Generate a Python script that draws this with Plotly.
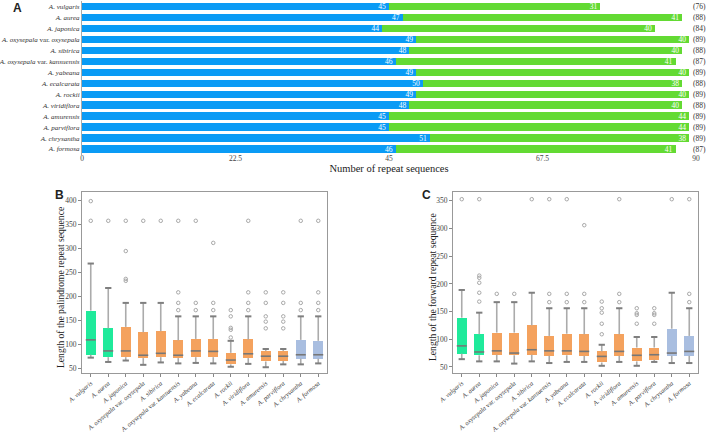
import plotly.graph_objects as go

# ---------------- data ----------------
species = ["A. vulgaris", "A. aurea", "A. japonica", "A. oxysepala var. oxysepala",
           "A. sibirica", "A. oxysepala var. kansuensis", "A. yabeana", "A. ecalcarata",
           "A. rockii", "A. viridiflora", "A. amurensis", "A. parviflora",
           "A. chrysantha", "A. formosa"]

# Panel A: number of repeat sequences
palindrome_counts = [45, 47, 44, 49, 48, 46, 49, 50, 49, 48, 45, 45, 51, 46]
forward_counts = [31, 41, 40, 40, 40, 41, 40, 38, 40, 40, 44, 44, 38, 41]
a_ticks = [0, 22.5, 45, 67.5, 90]

# group of each species (for box colours)
groups = ["I", "I", "II", "II", "II", "II", "II", "II", "II", "II", "II", "II", "III", "III"]

# Panel B: palindrome repeat length
B_q1 = [78, 73, 73, 71, 73, 71, 73, 73, 58, 71, 64, 65, 70, 70]
B_med = [109, 86, 86, 77, 81, 77, 86, 85, 67, 80, 75, 75, 78, 78]
B_q3 = [170, 133, 136, 125, 127, 108, 111, 111, 82, 110, 86, 86, 109, 107]
B_lo = [72, 63, 66, 57, 62, 60, 61, 60, 53, 59, 52, 58, 58, 60]
B_hi = [268, 217, 186, 186, 186, 158, 158, 158, 107, 158, 90, 90, 158, 158]
B_out = [[398, 357], [357], [357, 294, 236, 232], [357], [357],
         [357, 208, 186, 171], [357, 186, 171], [311, 186, 171],
         [171, 158, 134, 130, 114], [357, 208, 186, 171],
         [208, 186, 158, 147, 133], [208, 186, 158, 147, 133],
         [357, 186, 171], [357, 208, 186, 171]]
B_ticks = [50, 100, 150, 200, 250, 300, 350, 400]

# Panel C: forward repeat length
C_q1 = [74, 71, 72, 71, 72, 70, 71, 70, 58, 70, 60, 63, 70, 70]
C_med = [88, 77, 79, 75, 81, 79, 79, 78, 69, 78, 71, 72, 75, 78]
C_q3 = [139, 109, 112, 112, 125, 106, 110, 109, 78, 109, 85, 85, 119, 106]
C_lo = [64, 60, 60, 56, 60, 57, 59, 59, 52, 59, 52, 59, 57, 57]
C_hi = [189, 148, 167, 167, 184, 156, 156, 156, 90, 156, 104, 104, 184, 156]
C_out = [[353], [353, 215, 211, 202, 184, 168], [182], [182], [353],
         [353, 182, 167], [353, 182, 167], [306, 182, 167],
         [168, 156, 148, 128, 109], [353, 182, 167],
         [156, 147, 144, 128], [156, 147, 144, 128],
         [353], [353, 182, 167]]
C_ticks = [50, 100, 150, 200, 250, 300, 350]

# ---------------- style ----------------
SERIF = "Liberation Serif, Times New Roman, serif"
SANS = "Liberation Sans, Arial, sans-serif"
BLUE = "#0A9BF5"
GREEN = "#63DA33"
GROUP_COL = {"I": "#1FEA9B", "II": "#F4A25E", "III": "#A9BEE0"}
W, H = 709, 434


def ital(name):
    if " var. " in name:
        a, b = name.split(" var. ")
        return f"<i>{a}</i> var. <i>{b}</i>"
    return f"<i>{name}</i>"


labels = [ital(s) for s in species]
pos = list(range(len(species)))
totals = [a + b for a, b in zip(palindrome_counts, forward_counts)]

fig = go.Figure()

# ---------- Panel A ----------
for vals, col in [(palindrome_counts, BLUE), (forward_counts, GREEN)]:
    fig.add_trace(go.Bar(
        y=pos, x=vals, orientation="h", marker_color=col, marker_line_width=0,
        width=0.67, text=[str(v) for v in vals], textposition="inside", textangle=0,
        insidetextanchor="end", constraintext="none", cliponaxis=False,
        textfont=dict(color="white", size=7.5, family=SERIF), xaxis="x", yaxis="y",
        hoverinfo="skip"))

annotations = []
for i, t in enumerate(totals):
    annotations.append(dict(x=1, xref="paper", y=i, yref="y", text=f"({t})",
                            xanchor="right", xshift=-1, showarrow=False,
                            font=dict(size=7.5, family=SERIF, color="#333")))


# ---------- box panels ----------
def add_boxes(q1, med, q3, lo, hi, outs, xa, ya):
    bw = 0.57
    cw = 0.36
    cols = [GROUP_COL[g] for g in groups]
    # whiskers
    wx, wy = [], []
    for i in pos:
        wx += [i, i, None, i, i, None]
        wy += [lo[i], q1[i], None, q3[i], hi[i], None]
    fig.add_trace(go.Scatter(x=wx, y=wy, mode="lines", line=dict(color="#ABABAB", width=1.6),
                             xaxis=xa, yaxis=ya, hoverinfo="skip"))
    # boxes
    fig.add_trace(go.Bar(x=pos, y=[b - a for a, b in zip(q1, q3)], base=q1, width=bw,
                         marker_color=cols, marker_line_width=0, xaxis=xa, yaxis=ya,
                         hoverinfo="skip"))
    # caps
    cx, cy = [], []
    for i in pos:
        cx += [i - cw / 2, i + cw / 2, None, i - cw / 2, i + cw / 2, None]
        cy += [lo[i], lo[i], None, hi[i], hi[i], None]
    fig.add_trace(go.Scatter(x=cx, y=cy, mode="lines", line=dict(color="#7F7F7F", width=2),
                             xaxis=xa, yaxis=ya, hoverinfo="skip"))
    # medians
    mx, my = [], []
    for i in pos:
        mx += [i - bw / 2, i + bw / 2, None]
        my += [med[i], med[i], None]
    fig.add_trace(go.Scatter(x=mx, y=my, mode="lines", line=dict(color="#777777", width=1.6),
                             xaxis=xa, yaxis=ya, hoverinfo="skip"))
    # outliers
    ox, oy = [], []
    for i in pos:
        for v in outs[i]:
            ox.append(i)
            oy.append(v)
    fig.add_trace(go.Scatter(x=ox, y=oy, mode="markers",
                             marker=dict(symbol="circle-open", size=3.5,
                                         color="#A8A8A8", line=dict(width=1)),
                             xaxis=xa, yaxis=ya, hoverinfo="skip"))


add_boxes(B_q1, B_med, B_q3, B_lo, B_hi, B_out, "x2", "y2")
add_boxes(C_q1, C_med, C_q3, C_lo, C_hi, C_out, "x3", "y3")

# panel letters
for letter, px, py in [("A", 17, 8), ("B", 60, 195), ("C", 427, 195)]:
    annotations.append(dict(x=px / W, y=1 - py / H, xref="paper", yref="paper", text=f"<b>{letter}</b>",
                            showarrow=False, xanchor="center", yanchor="middle",
                            font=dict(size=12, family=SANS, color="#222")))

# rotated y-axis titles of the box panels
for txt, px in [("Length of the palindrome repeat sequence", 60),
                ("Length of the forward repeat sequence", 432)]:
    annotations.append(dict(x=px / W, y=1 - 287 / H, xref="paper", yref="paper", text=txt,
                            textangle=-90, showarrow=False, xanchor="center", yanchor="middle",
                            font=dict(size=9.6, family=SERIF, color="#222")))

tickfont = dict(size=7.5, family=SERIF, color="#444")
box_y_dom = [1 - 373 / H, 1 - 192 / H]
box_xtickfont = dict(size=6.5, family=SERIF, color="#333")

fig.update_layout(
    width=W, height=H, margin=dict(l=0, r=0, t=0, b=0),
    paper_bgcolor="white", plot_bgcolor="white", showlegend=False, barmode="stack",
    annotations=annotations,
    xaxis=dict(domain=[82 / W, 696 / W], range=[0, 90], tickvals=a_ticks,
               ticktext=[f"{v:g}" for v in a_ticks], showline=False, showgrid=False,
               zeroline=False, ticks="", ticklen=0, ticklabelstandoff=-2,
               tickfont=tickfont, anchor="y", automargin=False,
               title=dict(text="Number of repeat sequences", standoff=1,
                          font=dict(size=10.5, family=SERIF, color="#222"))),
    yaxis=dict(domain=[1 - 154.5 / H, 1 - 1 / H], range=[13.5, -0.5], tickvals=pos,
               ticktext=labels, showline=True, linecolor="#AAAAAA", linewidth=1,
               showgrid=False, zeroline=False, ticks="", ticklen=0, anchor="x", automargin=False,
               tickfont=dict(size=7, family=SERIF, color="#333")),
    xaxis2=dict(domain=[82 / W, 327 / W], range=[-0.5, 13.5], tickvals=pos, ticktext=labels,
                tickangle=-40, ticks="outside", ticklen=3, tickcolor="#888",
                showline=True, mirror=True, linecolor="#999", showgrid=False, zeroline=False,
                tickfont=box_xtickfont, anchor="y2", automargin=False),
    yaxis2=dict(domain=box_y_dom, range=[40, 417], tickvals=B_ticks, ticks="outside",
                ticklen=3, tickcolor="#888", showline=True, mirror=True, linecolor="#999",
                showgrid=False, zeroline=False, tickfont=tickfont, anchor="x2",
                automargin=False),
    xaxis3=dict(domain=[453 / W, 698 / W], range=[-0.5, 13.5], tickvals=pos, ticktext=labels,
                tickangle=-40, ticks="outside", ticklen=3, tickcolor="#888",
                showline=True, mirror=True, linecolor="#999", showgrid=False, zeroline=False,
                tickfont=box_xtickfont, anchor="y3", automargin=False),
    yaxis3=dict(domain=box_y_dom, range=[39, 366], tickvals=C_ticks, ticks="outside",
                ticklen=3, tickcolor="#888", showline=True, mirror=True, linecolor="#999",
                showgrid=False, zeroline=False, tickfont=tickfont, anchor="x3",
                automargin=False),
)

fig.write_html("out.html", config={"displayModeBar": False},
               post_script="document.body.style.margin='0';document.body.style.overflow='hidden';")
